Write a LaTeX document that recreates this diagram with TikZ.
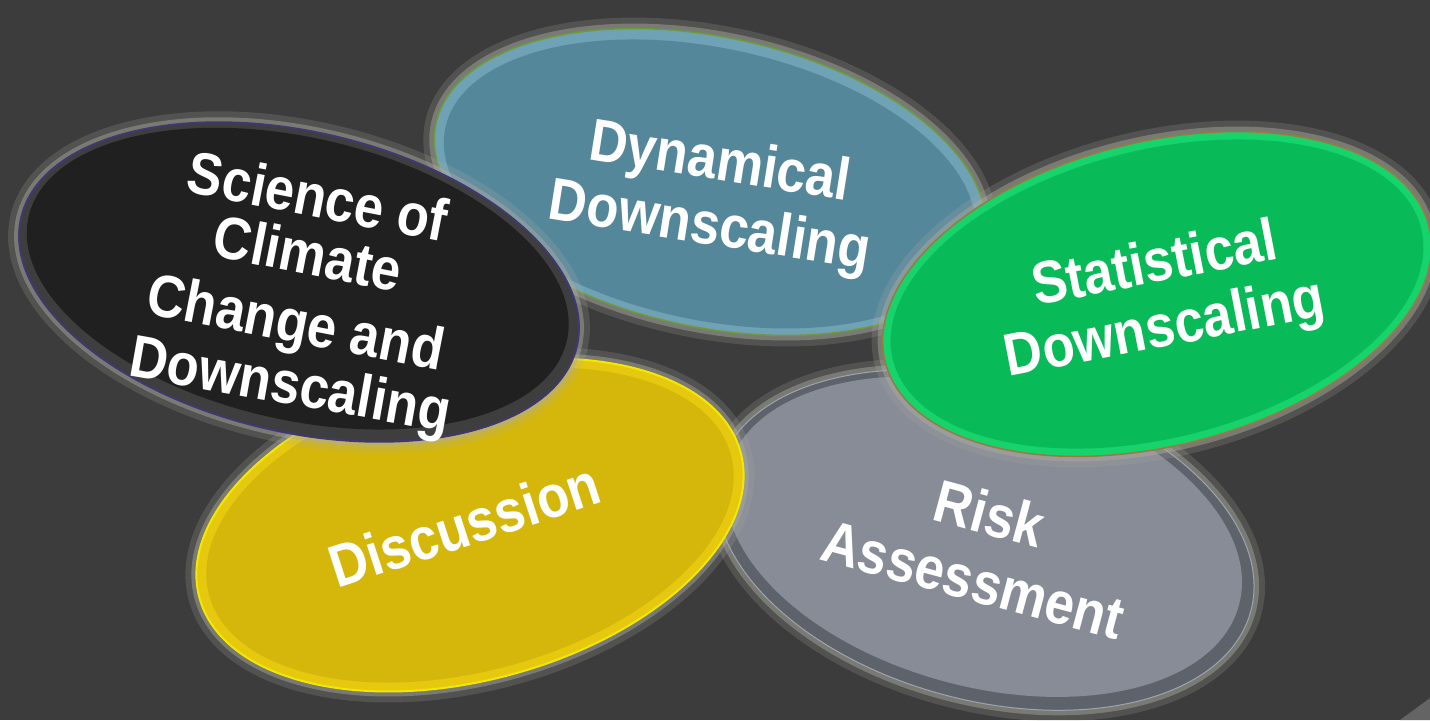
\documentclass[tikz,border=0pt]{standalone}
\usepackage{fontspec}
\setmainfont[FakeStretch=0.88]{Liberation Sans}
\usepackage{xcolor}
\usepackage{tikz}
\usetikzlibrary{calc}

\definecolor{bgcol}{HTML}{3C3C3C}
\definecolor{halocol}{HTML}{ACACA4}
\definecolor{riskfill}{HTML}{878C96}
\definecolor{riskrim}{HTML}{5E636B}
\definecolor{riskedge}{HTML}{9EA4AE}
\definecolor{dynfill}{HTML}{55879A}
\definecolor{dynrim}{HTML}{6FA2B4}
\definecolor{dynedge}{HTML}{6E9A3C}
\definecolor{discfill}{HTML}{D5B70B}
\definecolor{discrim}{HTML}{E6C80E}
\definecolor{discedge}{HTML}{F4E800}
\definecolor{scifill}{HTML}{202020}
\definecolor{scirim}{HTML}{3E3E3E}
\definecolor{sciedge}{HTML}{403870}
\definecolor{statfill}{HTML}{09BB58}
\definecolor{statrim}{HTML}{16D36C}
\definecolor{statedge}{HTML}{9A7A40}

\tikzset{
  halo/.style={draw=halocol, line width=0.22cm, opacity=0.2},
  halotwo/.style={draw=halocol, line width=0.10cm, opacity=0.45},
  bltext/.style={text=white, font=\bfseries\fontsize{17}{20}\selectfont,
    anchor=base, inner sep=0pt},
}

\begin{document}
\begin{tikzpicture}[x=0.01cm, y=-0.01cm]
            \fill [bgcol] (0,0) rectangle (1430,720);%
            \useasboundingbox (0,0) rectangle (1430,720);%
            \fill [gray!60!bgcol] (1430,698) -- (1400,720) -- (1430,720) -- cycle;%

            % Ellipse of risk assessment
            \coordinate (risk) at (985,540);%
            \draw [halo, rotate around={-15:(risk)}] (risk) ellipse (2.75cm and 1.60cm);%
            \draw [halotwo, rotate around={-15:(risk)}] (risk) ellipse (2.75cm and 1.60cm);%
            \filldraw [fill=riskrim, draw=riskedge, line width=0.01cm, rotate around={-15:(risk)}] (risk) ellipse (2.75cm and 1.60cm);%
            \fill [riskfill, rotate around={-15:(risk)}] ($(risk)+(-2,-3)$) ellipse (2.64cm and 1.50cm);%
            \node [bltext, rotate=-15] (risk-1) at (984,534) {Risk};%
            \node [bltext, rotate=-15] (risk-2) at (968,600) {Assessment};%

            % Ellipse of dynamical downscaling
            \coordinate (dyn) at (710,182);%
            \draw [halo, rotate around={-12:(dyn)}] (dyn) ellipse (2.80cm and 1.45cm);%
            \draw [halotwo, rotate around={-12:(dyn)}] (dyn) ellipse (2.80cm and 1.45cm);%
            \filldraw [fill=dynrim, draw=dynedge, line width=0.015cm, rotate around={-12:(dyn)}] (dyn) ellipse (2.80cm and 1.45cm);%
            \fill [dynfill, rotate around={-12:(dyn)}] ($(dyn)+(0,2)$) ellipse (2.70cm and 1.36cm);%
            \node [bltext, rotate=-9] (dyn-1) at (717,180) {Dynamical};%
            \node [bltext, rotate=-9] (dyn-2) at (707,244) {Downscaling};%

            % Ellipse of discussion
            \coordinate (disc) at (470,525);%
            \draw [halo, rotate around={15:(disc)}] (disc) ellipse (2.80cm and 1.55cm);%
            \draw [halotwo, rotate around={15:(disc)}] (disc) ellipse (2.80cm and 1.55cm);%
            \filldraw [fill=discrim, draw=discedge, line width=0.02cm, rotate around={15:(disc)}] (disc) ellipse (2.80cm and 1.55cm);%
            \fill [discfill, rotate around={15:(disc)}] (disc) ellipse (2.70cm and 1.46cm);%
            \node [bltext, rotate=18] (disc-1) at (471,545) {Discussion};%

            % Ellipse of the science of climate change
            \coordinate (sci) at (299,282);%
            \draw [halo, rotate around={-13:(sci)}] (sci) ellipse (2.85cm and 1.50cm);%
            \draw [halotwo, rotate around={-13:(sci)}] (sci) ellipse (2.85cm and 1.50cm);%
            \filldraw [fill=scirim, draw=sciedge, line width=0.02cm, rotate around={-13:(sci)}] (sci) ellipse (2.85cm and 1.50cm);%
            \fill [scifill, rotate around={-13:(sci)}] ($(sci)+(-2,-3)$) ellipse (2.76cm and 1.41cm);%
            \node [bltext, rotate=-11] (sci-1) at (314,217) {Science of};%
            \node [bltext, rotate=-11] (sci-2) at (304,274) {Climate};%
            \node [bltext, rotate=-11] (sci-3) at (292,342) {Change and};%
            \node [bltext, rotate=-10] (sci-4) at (287,404) {Downscaling};%

            % Ellipse of statistical downscaling
            \coordinate (stat) at (1157,294);%
            \draw [halo, rotate around={14:(stat)}] (stat) ellipse (2.80cm and 1.52cm);%
            \draw [halotwo, rotate around={14:(stat)}] (stat) ellipse (2.80cm and 1.52cm);%
            \filldraw [fill=statrim, draw=statedge, line width=0.015cm, rotate around={14:(stat)}] (stat) ellipse (2.80cm and 1.52cm);%
            \fill [statfill, rotate around={14:(stat)}] (stat) ellipse (2.72cm and 1.44cm);%
            \node [bltext, rotate=11] (stat-1) at (1158,282) {Statistical};%
            \node [bltext, rotate=11] (stat-2) at (1168,346) {Downscaling};%
\end{tikzpicture}
\end{document}
